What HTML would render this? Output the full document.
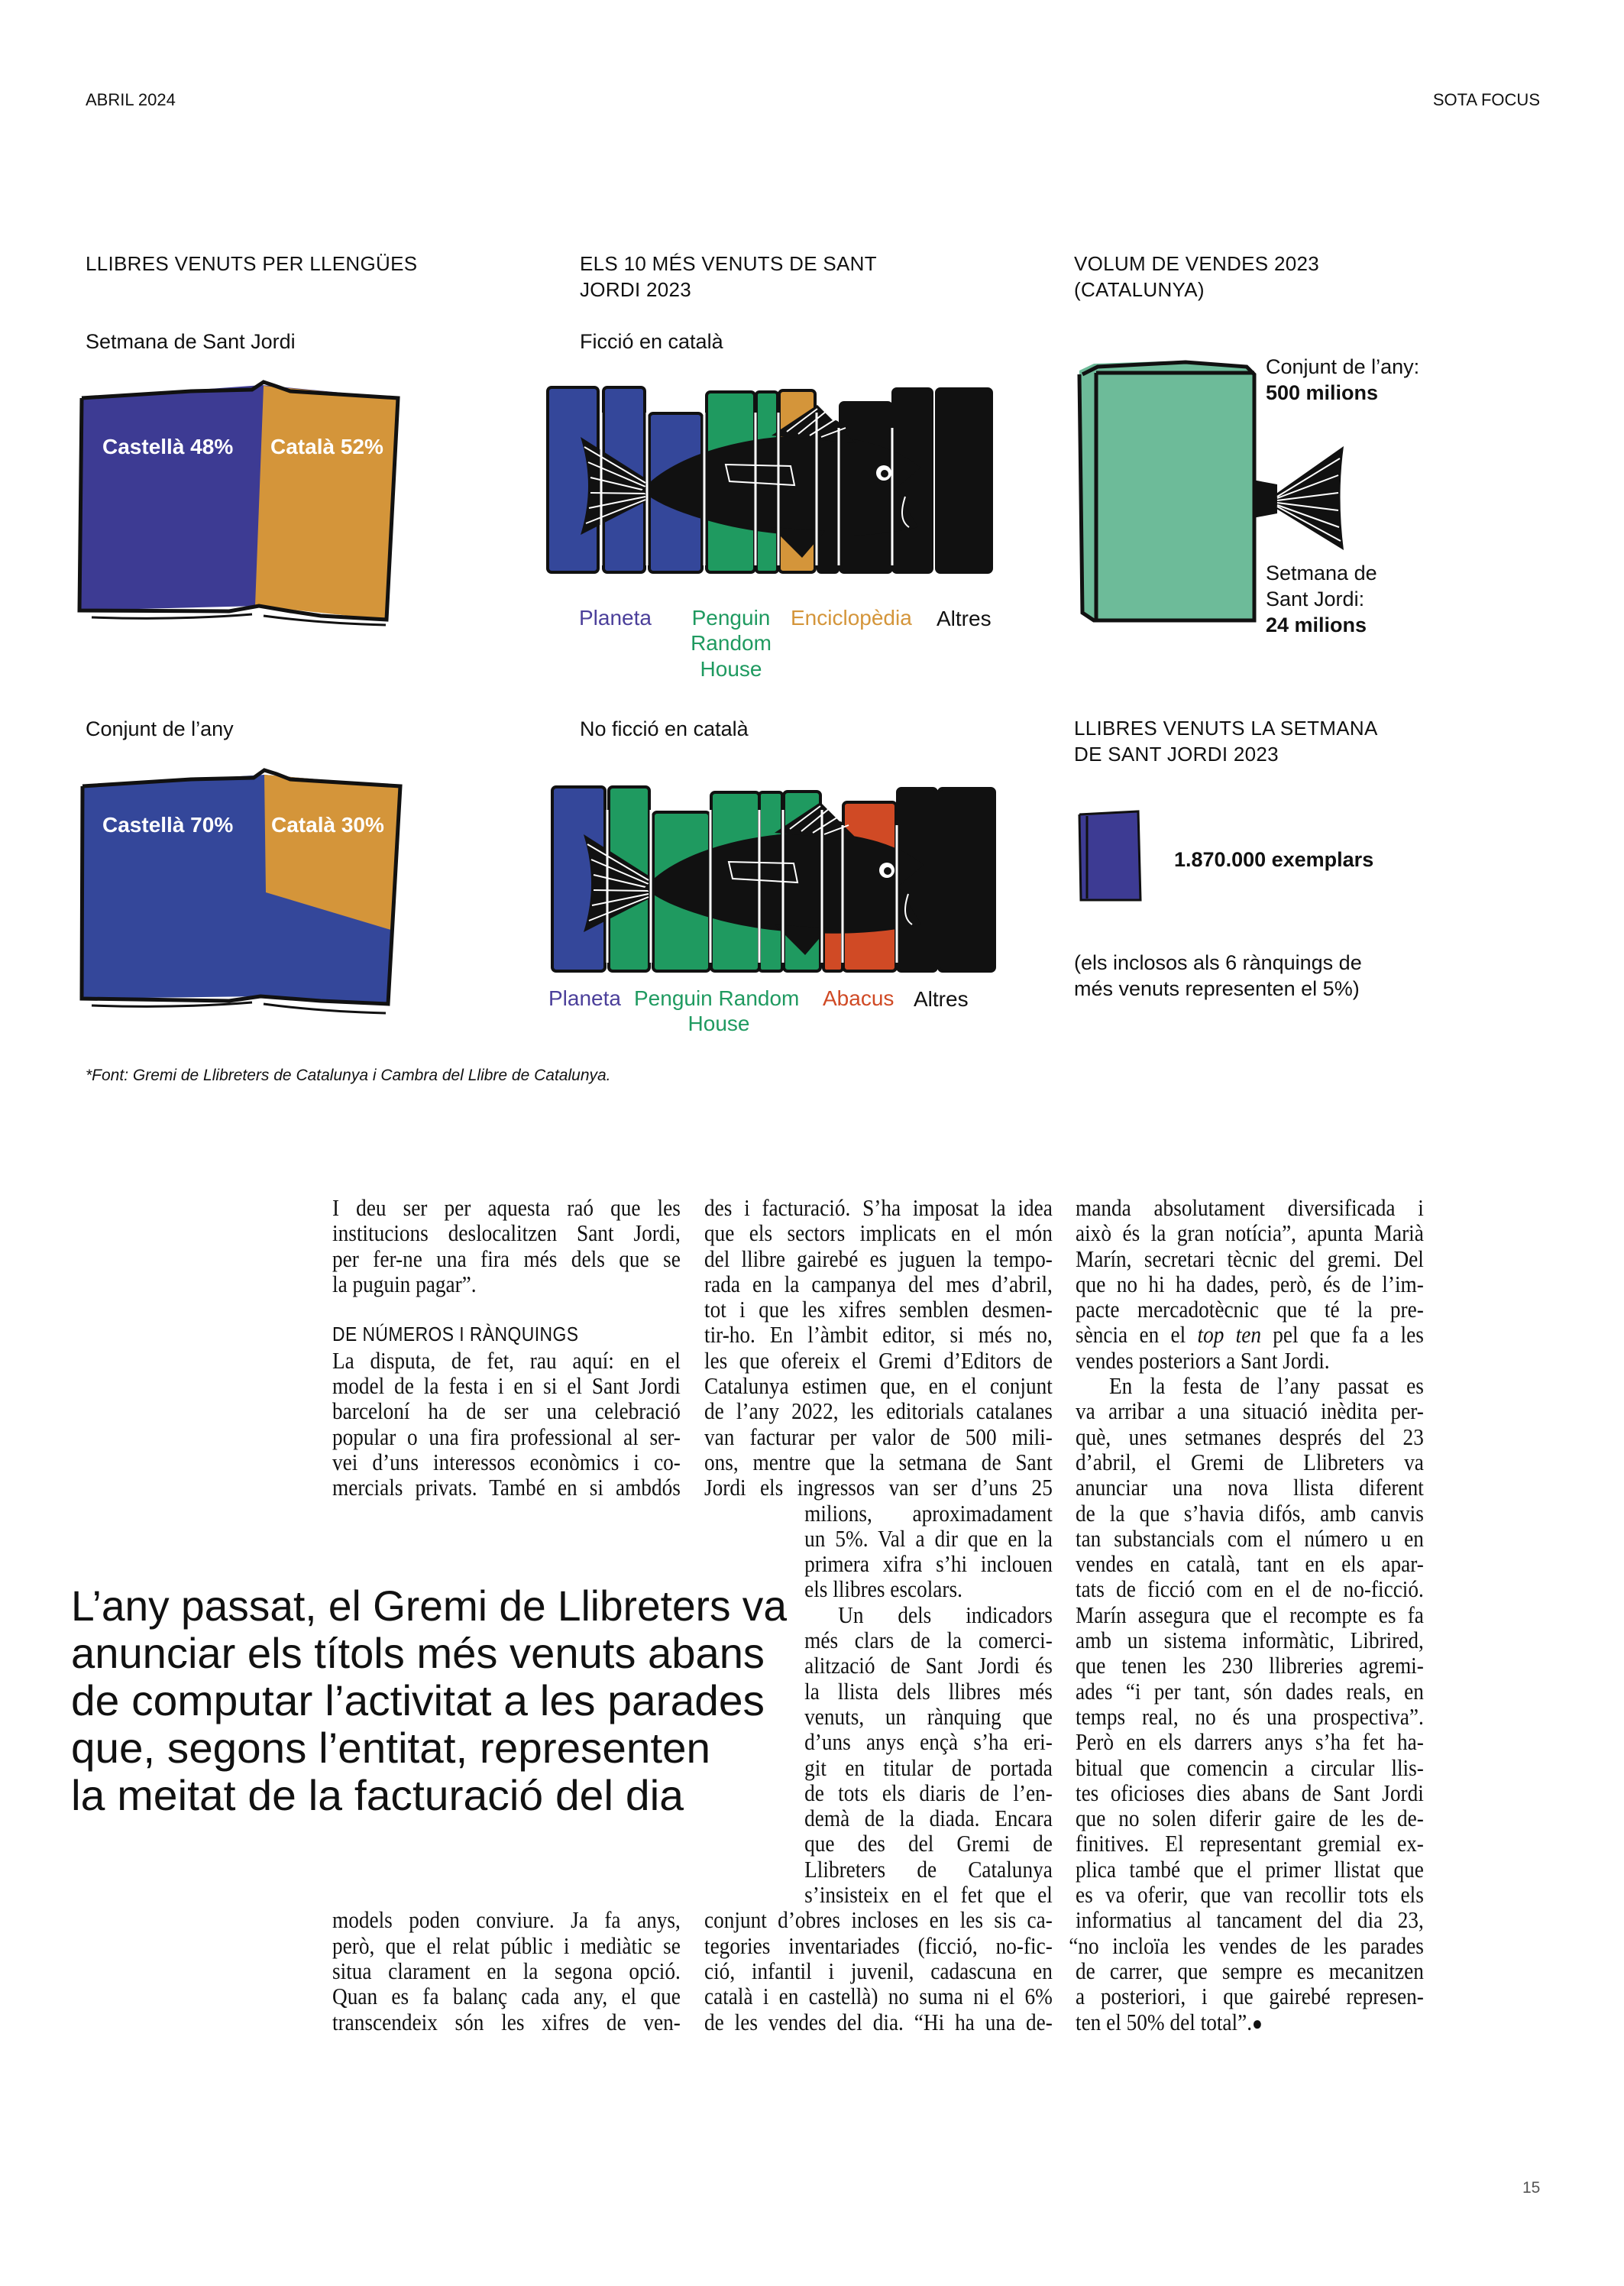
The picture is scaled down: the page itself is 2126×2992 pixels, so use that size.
<!DOCTYPE html>
<html><head><meta charset="utf-8">
<style>
*{margin:0;padding:0;box-sizing:border-box}
body{width:2126px;height:2992px;background:#fff;position:relative;overflow:hidden;font-family:"Liberation Sans",sans-serif;color:#111}
.a{position:absolute;white-space:nowrap}
.h{font-size:26px;line-height:34px;letter-spacing:0.3px}
.s{font-size:27px;line-height:34px}
.col{position:absolute;top:1564px;width:518px;transform:scaleX(0.88);transform-origin:0 0;font-family:"Liberation Serif",serif;font-size:31px;color:#111}
.col div{height:33.3px;line-height:33.3px;white-space:nowrap;text-align:justify;text-align-last:justify}
.col div.l{text-align:left;text-align-last:left}
.col div.i{padding-left:149px}
.col div.p{text-indent:50px}
.col div.sub{font-family:"Liberation Sans",sans-serif;font-size:26px;text-align:left;text-align-last:left;letter-spacing:0.5px}
</style></head><body>

<div class="a" style="left:112px;top:118px;font-size:22px">ABRIL 2024</div>
<div class="a" style="right:110px;top:118px;font-size:22px">SOTA FOCUS</div>

<div class="a h" style="left:112px;top:328px">LLIBRES VENUTS PER LLENGÜES</div>
<div class="a h" style="left:759px;top:328px">ELS 10 MÉS VENUTS DE SANT<br>JORDI 2023</div>
<div class="a h" style="left:1406px;top:328px">VOLUM DE VENDES 2023<br>(CATALUNYA)</div>

<div class="a s" style="left:112px;top:430px">Setmana de Sant Jordi</div>
<div class="a s" style="left:759px;top:430px">Ficció en català</div>
<div class="a s" style="left:112px;top:937px">Conjunt de l’any</div>
<div class="a s" style="left:759px;top:937px">No ficció en català</div>
<div class="a h" style="left:1406px;top:936px">LLIBRES VENUTS LA SETMANA<br>DE SANT JORDI 2023</div>

<svg class="a" style="left:0;top:0" width="2126" height="1420" viewBox="0 0 2126 1420">
 <!-- Book 1 -->
 <polygon points="107,521 343,504 521,521 506,811 339,793 104,799" fill="#3d3b93"/>
 <polygon points="345,505 521,521 506,811 334,793" fill="#d4953a"/>
 <polyline points="107,521 250,512 330,510 345,500 360,505 380,512 521,521 506,811 420,806 380,800 339,793 300,800 104,799 107,521" fill="none" stroke="#111" stroke-width="5"/>
 <path d="M120,808 Q230,812 330,804 M345,806 Q420,816 505,818" stroke="#111" stroke-width="3" fill="none"/>
 <text x="134" y="594" font-family="Liberation Sans" font-weight="bold" font-size="28" fill="#fff">Castellà 48%</text>
 <text x="354" y="594" font-family="Liberation Sans" font-weight="bold" font-size="28" fill="#fff">Català 52%</text>
 <!-- Book 2 -->
 <polygon points="108,1029 346,1014 524,1029 508,1314 341,1304 107,1307" fill="#34479a"/>
 <polygon points="346,1014 524,1029 515,1218 348,1168" fill="#d4953a"/>
 <polyline points="108,1029 250,1020 332,1018 346,1008 362,1013 380,1020 524,1029 508,1314 420,1310 341,1304 300,1310 107,1307 108,1029" fill="none" stroke="#111" stroke-width="5"/>
 <path d="M120,1316 Q230,1320 330,1312 M345,1314 Q420,1324 505,1326" stroke="#111" stroke-width="3" fill="none"/>
 <text x="134" y="1089" font-family="Liberation Sans" font-weight="bold" font-size="28" fill="#fff">Castellà 70%</text>
 <text x="355" y="1089" font-family="Liberation Sans" font-weight="bold" font-size="28" fill="#fff">Català 30%</text>

 <g transform="translate(-10,0)">
 <!-- Chart 1 books -->
 <g stroke="#111" stroke-width="4">
  <rect x="727" y="507" width="66" height="242" rx="5" fill="#34479a"/>
  <rect x="800" y="507" width="54" height="242" rx="5" fill="#34479a"/>
  <rect x="860" y="541" width="69" height="208" rx="5" fill="#34479a"/>
  <rect x="935" y="513" width="63" height="236" rx="5" fill="#1f9a60"/>
  <rect x="1000" y="513" width="28" height="236" rx="4" fill="#1f9a60"/>
  <rect x="1030" y="511" width="47" height="238" rx="5" fill="#d4953a"/>
  <rect x="1081" y="552" width="26" height="197" rx="4" fill="#111"/>
  <rect x="1110" y="527" width="67" height="222" rx="5" fill="#111"/>
  <rect x="1179" y="509" width="51" height="240" rx="5" fill="#111"/>
  <rect x="1236" y="509" width="72" height="240" rx="5" fill="#111"/>
 </g>
 <g id="fish1">
  <path d="M770,572 L858,628 L858,655 L770,700 Q790,636 770,572Z" fill="#111"/>
  <g stroke="#fff" stroke-width="2"><line x1="775" y1="585" x2="855" y2="632"/><line x1="780" y1="605" x2="855" y2="637"/><line x1="783" y1="625" x2="855" y2="642"/><line x1="783" y1="645" x2="855" y2="646"/><line x1="781" y1="665" x2="855" y2="650"/><line x1="777" y1="685" x2="855" y2="654"/></g>
  <path d="M850,642 C890,595 990,568 1080,570 C1150,572 1195,595 1215,612 L1182,640 L1212,690 C1150,705 1040,708 950,685 C905,673 870,660 850,642Z" fill="#111"/>
  <path d="M1020,570 L1080,530 L1130,580Z" fill="#111"/>
  <g stroke="#fff" stroke-width="2"><line x1="1040" y1="565" x2="1080" y2="535"/><line x1="1055" y1="568" x2="1092" y2="538"/><line x1="1070" y1="570" x2="1105" y2="548"/><line x1="1085" y1="572" x2="1117" y2="560"/></g>
  <path d="M1020,690 L1060,730 L1090,695Z" fill="#111"/>
  <path d="M960,608 L1045,610 L1050,635 L965,630Z" fill="none" stroke="#fff" stroke-width="2"/>
  <path d="M1195,650 Q1185,680 1200,690" stroke="#fff" stroke-width="2" fill="none"/>
  <circle cx="1167" cy="619" r="10" fill="#fff"/><circle cx="1168" cy="620" r="5" fill="#111"/>
 </g>
 <g stroke="#fff" stroke-width="3">
  <line x1="797" y1="540" x2="797" y2="740"/><line x1="857" y1="540" x2="857" y2="740"/><line x1="932" y1="540" x2="932" y2="740"/><line x1="999" y1="540" x2="999" y2="740"/><line x1="1029" y1="540" x2="1029" y2="740"/><line x1="1079" y1="540" x2="1079" y2="740"/><line x1="1108" y1="560" x2="1108" y2="740"/><line x1="1178" y1="560" x2="1178" y2="740"/>
 </g>
 <g font-family="Liberation Sans" font-size="28">
  <text x="768" y="818" fill="#4b3f9a">Planeta</text>
  <text x="967" y="818" fill="#1f9a60" text-anchor="middle">Penguin</text>
  <text x="967" y="851" fill="#1f9a60" text-anchor="middle">Random</text>
  <text x="967" y="885" fill="#1f9a60" text-anchor="middle">House</text>
  <text x="1045" y="818" fill="#d4953a">Enciclopèdia</text>
  <text x="1236" y="819" fill="#111">Altres</text>
 </g>

 <!-- Chart 2 books -->
 <g stroke="#111" stroke-width="4">
  <rect x="733" y="1030" width="69" height="241" rx="5" fill="#34479a"/>
  <rect x="807" y="1030" width="53" height="241" rx="5" fill="#1f9a60"/>
  <rect x="865" y="1063" width="74" height="208" rx="5" fill="#1f9a60"/>
  <rect x="941" y="1037" width="63" height="234" rx="5" fill="#1f9a60"/>
  <rect x="1004" y="1037" width="30" height="234" rx="4" fill="#1f9a60"/>
  <rect x="1036" y="1036" width="48" height="235" rx="5" fill="#1f9a60"/>
  <rect x="1088" y="1077" width="25" height="194" rx="4" fill="#d04a25"/>
  <rect x="1114" y="1050" width="69" height="221" rx="5" fill="#d04a25"/>
  <rect x="1185" y="1032" width="51" height="239" rx="5" fill="#111"/>
  <rect x="1239" y="1032" width="73" height="239" rx="5" fill="#111"/>
 </g>
 <use href="#fish1" transform="translate(4,520)"/>
 <g stroke="#fff" stroke-width="3">
  <line x1="805" y1="1060" x2="805" y2="1260"/><line x1="862" y1="1060" x2="862" y2="1260"/><line x1="940" y1="1060" x2="940" y2="1260"/><line x1="1004" y1="1060" x2="1004" y2="1260"/><line x1="1035" y1="1060" x2="1035" y2="1260"/><line x1="1086" y1="1060" x2="1086" y2="1260"/><line x1="1113" y1="1080" x2="1113" y2="1260"/><line x1="1184" y1="1080" x2="1184" y2="1260"/>
 </g>
 <g font-family="Liberation Sans" font-size="28">
  <text x="728" y="1316" fill="#4b3f9a">Planeta</text>
  <text x="840" y="1316" fill="#1f9a60">Penguin Random</text>
  <text x="951" y="1349" fill="#1f9a60" text-anchor="middle">House</text>
  <text x="1087" y="1316" fill="#d04a25">Abacus</text>
  <text x="1206" y="1317" fill="#111">Altres</text>
 </g>
 </g>

 <!-- Volume book -->
 <g transform="translate(-8,0)">
 <polygon points="1421,485 1440,476 1560,472 1640,480 1650,490 1650,812 1440,814 1425,800" fill="#6dbb99"/>
 <g stroke="#111" stroke-width="5" fill="none">
  <polyline points="1425,490 1445,480 1560,474 1640,480 1650,490 1650,812 1440,812 1425,802 1421,490"/>
  <line x1="1443" y1="488" x2="1443" y2="810"/>
  <line x1="1443" y1="488" x2="1650" y2="488"/>
 </g>
 <path d="M1648,628 L1680,634 L1680,672 L1648,678Z" fill="#111"/>
 <path d="M1676,648 L1767,584 Q1758,650 1767,720 L1676,664Z" fill="#111"/>
 <g stroke="#fff" stroke-width="2"><line x1="1680" y1="650" x2="1762" y2="600"/><line x1="1680" y1="652" x2="1760" y2="622"/><line x1="1680" y1="655" x2="1760" y2="645"/><line x1="1680" y1="658" x2="1760" y2="668"/><line x1="1680" y1="661" x2="1761" y2="690"/><line x1="1680" y1="663" x2="1763" y2="708"/></g>
 </g>
 <g font-family="Liberation Sans" font-size="27" fill="#111">
  <text x="1657" y="489">Conjunt de l’any:</text>
  <text x="1657" y="523" font-weight="bold">500 milions</text>
  <text x="1657" y="759">Setmana de</text>
  <text x="1657" y="793">Sant Jordi:</text>
  <text x="1657" y="827" font-weight="bold">24 milions</text>
 </g>
 <!-- small blue book -->
 <g transform="translate(-15,0)">
 <polygon points="1428,1066 1505,1062 1508,1178 1430,1178" fill="#3d3b93"/>
 <g stroke="#111" stroke-width="3" fill="none"><polyline points="1428,1066 1505,1062 1508,1178 1430,1178 1428,1066"/><line x1="1438" y1="1068" x2="1438" y2="1176"/></g>
 </g>
 <text x="1537" y="1134" font-family="Liberation Sans" font-weight="bold" font-size="27" fill="#111">1.870.000 exemplars</text>
 <text x="1406" y="1269" font-family="Liberation Sans" font-size="27" fill="#111">(els inclosos als 6 rànquings de</text>
 <text x="1406" y="1303" font-family="Liberation Sans" font-size="27" fill="#111">més venuts representen el 5%)</text>
 <text x="112" y="1414" font-family="Liberation Sans" font-style="italic" font-size="21" fill="#111">*Font: Gremi de Llibreters de Catalunya i Cambra del Llibre de Catalunya.</text>
</svg>

<!-- pull quote -->
<svg class="a" style="left:0;top:2053px" width="1100" height="340">
 <g font-family="Liberation Sans" font-size="56" fill="#111">
  <text x="93" y="68" textLength="937" lengthAdjust="spacingAndGlyphs">L’any passat, el Gremi de Llibreters va</text>
  <text x="93" y="130" textLength="908" lengthAdjust="spacingAndGlyphs">anunciar els títols més venuts abans</text>
  <text x="93" y="192" textLength="908" lengthAdjust="spacingAndGlyphs">de computar l’activitat a les parades</text>
  <text x="93" y="254" textLength="837" lengthAdjust="spacingAndGlyphs">que, segons l’entitat, representen</text>
  <text x="93" y="316" textLength="802" lengthAdjust="spacingAndGlyphs">la meitat de la facturació del dia</text>
 </g>
</svg>

<div class="col" style="left:435px">
<div>I deu ser per aquesta raó que les</div>
<div>institucions deslocalitzen Sant Jordi,</div>
<div>per fer-ne una fira més dels que se</div>
<div class="l">la puguin pagar”.</div>
<div class="l"></div>
<div class="sub">DE NÚMEROS I RÀNQUINGS</div>
<div>La disputa, de fet, rau aquí: en el</div>
<div>model de la festa i en si el Sant Jordi</div>
<div>barceloní ha de ser una celebració</div>
<div>popular o una fira professional al ser-</div>
<div>vei d’uns interessos econòmics i co-</div>
<div>mercials privats. També en si ambdós</div>
<div class="l"></div><div class="l"></div><div class="l"></div><div class="l"></div><div class="l"></div><div class="l"></div><div class="l"></div><div class="l"></div><div class="l"></div><div class="l"></div><div class="l"></div><div class="l"></div><div class="l"></div><div class="l"></div><div class="l"></div><div class="l"></div>
<div>models poden conviure. Ja fa anys,</div>
<div>però, que el relat públic i mediàtic se</div>
<div>situa clarament en la segona opció.</div>
<div>Quan es fa balanç cada any, el que</div>
<div>transcendeix són les xifres de ven-</div>
</div>

<div class="col" style="left:922px">
<div>des i facturació. S’ha imposat la idea</div>
<div>que els sectors implicats en el món</div>
<div>del llibre gairebé es juguen la tempo-</div>
<div>rada en la campanya del mes d’abril,</div>
<div>tot i que les xifres semblen desmen-</div>
<div>tir-ho. En l’àmbit editor, si més no,</div>
<div>les que ofereix el Gremi d’Editors de</div>
<div>Catalunya estimen que, en el conjunt</div>
<div>de l’any 2022, les editorials catalanes</div>
<div>van facturar per valor de 500 mili-</div>
<div>ons, mentre que la setmana de Sant</div>
<div>Jordi els ingressos van ser d’uns 25</div>
<div class="i">milions, aproximadament</div>
<div class="i">un 5%. Val a dir que en la</div>
<div class="i">primera xifra s’hi inclouen</div>
<div class="i l">els llibres escolars.</div>
<div class="i p">Un dels indicadors</div>
<div class="i">més clars de la comerci-</div>
<div class="i">alització de Sant Jordi és</div>
<div class="i">la llista dels llibres més</div>
<div class="i">venuts, un rànquing que</div>
<div class="i">d’uns anys ençà s’ha eri-</div>
<div class="i">git en titular de portada</div>
<div class="i">de tots els diaris de l’en-</div>
<div class="i">demà de la diada. Encara</div>
<div class="i">que des del Gremi de</div>
<div class="i">Llibreters de Catalunya</div>
<div class="i">s’insisteix en el fet que el</div>
<div>conjunt d’obres incloses en les sis ca-</div>
<div>tegories inventariades (ficció, no-fic-</div>
<div>ció, infantil i juvenil, cadascuna en</div>
<div>català i en castellà) no suma ni el 6%</div>
<div>de les vendes del dia. “Hi ha una de-</div>
</div>

<div class="col" style="left:1408px">
<div>manda absolutament diversificada i</div>
<div>això és la gran notícia”, apunta Marià</div>
<div>Marín, secretari tècnic del gremi. Del</div>
<div>que no hi ha dades, però, és de l’im-</div>
<div>pacte mercadotècnic que té la pre-</div>
<div>sència en el <i>top ten</i> pel que fa a les</div>
<div class="l">vendes posteriors a Sant Jordi.</div>
<div class="p">En la festa de l’any passat es</div>
<div>va arribar a una situació inèdita per-</div>
<div>què, unes setmanes després del 23</div>
<div>d’abril, el Gremi de Llibreters va</div>
<div>anunciar una nova llista diferent</div>
<div>de la que s’havia difós, amb canvis</div>
<div>tan substancials com el número u en</div>
<div>vendes en català, tant en els apar-</div>
<div>tats de ficció com en el de no-ficció.</div>
<div>Marín assegura que el recompte es fa</div>
<div>amb un sistema informàtic, Librired,</div>
<div>que tenen les 230 llibreries agremi-</div>
<div>ades “i per tant, són dades reals, en</div>
<div>temps real, no és una prospectiva”.</div>
<div>Però en els darrers anys s’ha fet ha-</div>
<div>bitual que comencin a circular llis-</div>
<div>tes oficioses dies abans de Sant Jordi</div>
<div>que no solen diferir gaire de les de-</div>
<div>finitives. El representant gremial ex-</div>
<div>plica també que el primer llistat que</div>
<div>es va oferir, que van recollir tots els</div>
<div>informatius al tancament del dia 23,</div>
<div style="margin-left:-10px">“no incloïa les vendes de les parades</div>
<div>de carrer, que sempre es mecanitzen</div>
<div>a posteriori, i que gairebé represen-</div>
<div class="l">ten el 50% del total”.<span style="font-size:26px">●</span></div>
</div>

<div class="a" style="left:1993px;top:2852px;font-size:21px;color:#555">15</div>
</body></html>
